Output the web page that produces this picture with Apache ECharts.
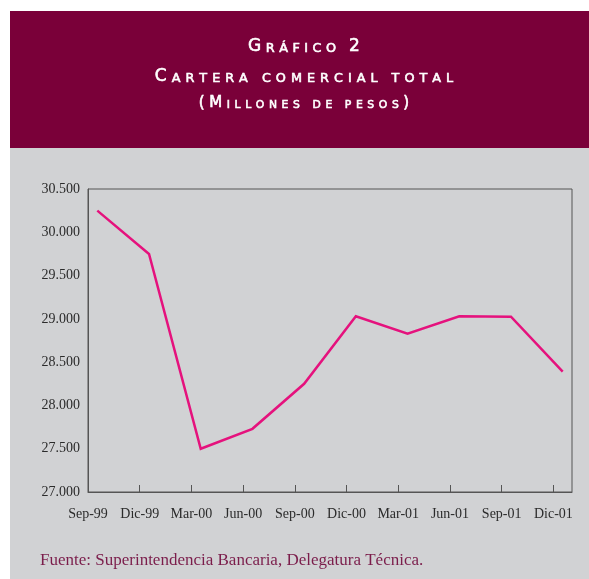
<!DOCTYPE html>
<html>
<head>
<meta charset="utf-8">
<script src="https://cdn.jsdelivr.net/npm/echarts@6/dist/echarts.min.js"></script>
<style>
  html, body { margin: 0; padding: 0; background: #ffffff; }
  #chart { width: 589px; height: 579px; }
</style>
</head>
<body>
<div id="chart"></div>
<script>
// Quarter-end labels along the horizontal axis
const months = ['Sep-99', 'Dic-99', 'Mar-00', 'Jun-00', 'Sep-00', 'Dic-00', 'Mar-01', 'Jun-01', 'Sep-01', 'Dic-01'];
// Cartera comercial total, millones de pesos
const cartera = [30250, 29750, 27500, 27730, 28250, 29030, 28830, 29030, 29025, 28390];
// Vertical scale
const yMin = 27000;
const yMax = 30500;
const yStep = 500;

const titleLines = ['Gráfico 2', 'Cartera comercial total', '(Millones de pesos)'];
const sourceNote = 'Fuente: Superintendencia Bancaria, Delegatura Técnica.';

// Points sit a little to the right of each tick mark
const pointShift = 0.18;
const xMax = 9.36;

const fmtThousands = v => String(v).replace(/\B(?=(\d{3})+(?!\d))/g, '.');

// Small-caps look built from rich-text tokens with extra tracking
function smallCaps(str, bigSize, smallSize, track) {
  const base = { fontFamily: 'DejaVu Sans', fontWeight: 'normal', fill: '#ffffff',
                 stroke: '#ffffff', lineWidth: 0.6, verticalAlign: 'bottom',
                 padding: [0, track / 2, 0, track / 2] };
  const rich = {
    b: Object.assign({ fontSize: bigSize, lineHeight: bigSize }, base),
    s: Object.assign({ fontSize: smallSize, lineHeight: smallSize }, base)
  };
  let text = '';
  for (const ch of str) {
    const isBig = ch !== ch.toLowerCase() || /[0-9()]/.test(ch);
    text += '{' + (isBig ? 'b' : 's') + '|' + (isBig ? ch : ch.toUpperCase()) + '}';
  }
  return { text, rich };
}

const t1 = smallCaps(titleLines[0], 17, 12.8, 4.5);
const t2 = smallCaps(titleLines[1], 17, 12.8, 5.0);
const t3 = smallCaps(titleLines[2], 15, 10.8, 4.6);

const chart = echarts.init(document.getElementById('chart'), null, { renderer: 'canvas' });

chart.setOption({
  backgroundColor: '#ffffff',
  animation: false,
  graphic: [
    { type: 'rect', z: -20, shape: { x: 10, y: 11, width: 579, height: 137 }, style: { fill: '#7a0039' } },
    { type: 'rect', z: -20, shape: { x: 10, y: 148, width: 579, height: 431 }, style: { fill: '#d1d2d4' } },
    { type: 'text', z: 10, x: 304, y: 47, style: { text: t1.text, rich: t1.rich, align: 'center', verticalAlign: 'middle' } },
    { type: 'text', z: 10, x: 304, y: 77, style: { text: t2.text, rich: t2.rich, align: 'center', verticalAlign: 'middle' } },
    { type: 'text', z: 10, x: 304, y: 103, style: { text: t3.text, rich: t3.rich, align: 'center', verticalAlign: 'middle' } },
    { type: 'text', z: 10, x: 40, y: 561, style: { text: sourceNote, fontFamily: 'Liberation Serif', fontSize: 17,
      fill: '#7b1d4b', align: 'left', verticalAlign: 'middle' } }
  ],
  grid: {
    left: 88, top: 189, right: 17, bottom: 87,
    show: true, borderColor: '#555555', borderWidth: 1, backgroundColor: 'transparent'
  },
  xAxis: {
    type: 'value',
    min: 0, max: xMax, interval: 1,
    splitLine: { show: false },
    axisLine: { show: true, lineStyle: { color: '#555555', width: 1 } },
    axisTick: { show: true, inside: true, length: 7, lineStyle: { color: '#555555' } },
    axisLabel: {
      showMaxLabel: false,
      margin: 15,
      fontFamily: 'Liberation Serif', fontSize: 14, color: '#2b2b2b',
      formatter: v => (Number.isInteger(v) && months[v] !== undefined) ? months[v] : ''
    }
  },
  yAxis: {
    type: 'value',
    min: yMin, max: yMax, interval: yStep,
    splitLine: { show: false },
    axisLine: { show: true, lineStyle: { color: '#555555', width: 1 } },
    axisTick: { show: false },
    axisLabel: {
      margin: 8,
      fontFamily: 'Liberation Serif', fontSize: 14, color: '#2b2b2b',
      formatter: v => fmtThousands(v)
    }
  },
  series: [{
    type: 'line',
    data: cartera.map((v, i) => [i + pointShift, v]),
    showSymbol: false,
    symbol: 'none',
    lineStyle: { color: '#e5127d', width: 2.5, join: 'miter' },
    z: 5
  }]
});
</script>
</body>
</html>
